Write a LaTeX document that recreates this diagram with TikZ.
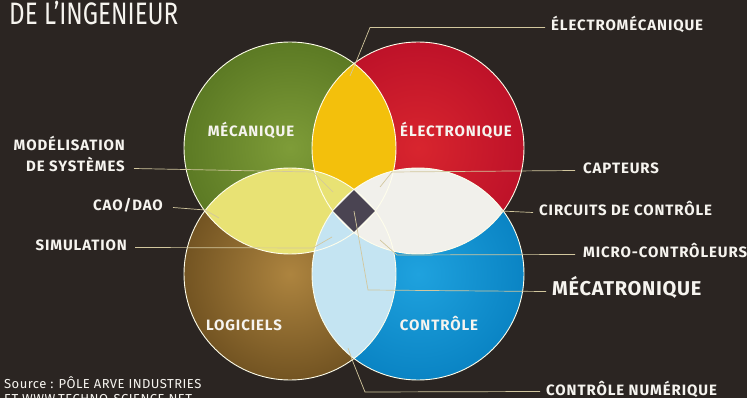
\documentclass[tikz,border=0pt]{standalone}
\usepackage{fontspec}
\setmainfont{Fira Sans}
\newfontfamily\lblfont{Fira Sans}[LetterSpace=6]
\newfontfamily\bigfont{Fira Sans}[LetterSpace=3.5]
\newfontfamily\srcfont{Fira Sans}[LetterSpace=3.5]
\newfontfamily\titfont{Fira Sans}[FakeStretch=0.78]
\usetikzlibrary{shapes.geometric}
\definecolor{bg}{HTML}{2B2522}
\definecolor{cgreen}{HTML}{5C7A24}
\definecolor{cgreenin}{HTML}{7E9C38}
\definecolor{cred}{HTML}{BE1229}
\definecolor{credin}{HTML}{D8252E}
\definecolor{cbrown}{HTML}{735422}
\definecolor{cbrownin}{HTML}{AD843F}
\definecolor{cblue}{HTML}{0A84C4}
\definecolor{cbluein}{HTML}{1FA2DE}
\definecolor{ltop}{HTML}{F3C00C}
\definecolor{lleft}{HTML}{E8E274}
\definecolor{lright}{HTML}{F1F0EB}
\definecolor{lbottom}{HTML}{C4E4F2}
\definecolor{dia}{HTML}{4A4452}
\definecolor{lead}{HTML}{D2C79E}
\definecolor{txt}{HTML}{F6F4EF}
\tikzset{
  lab/.style={text=txt, inner sep=0pt, text height=0.7em, text depth=0pt,
    font=\lblfont\bfseries\fontsize{15}{17}\selectfont},
  bigl/.style={lab, font=\bigfont\bfseries\fontsize{20}{22}\selectfont},
  clab/.style={lab},
  leader/.style={draw=lead, line width=0.7pt},
  rim/.style={draw=white!92!yellow, line width=0.9pt},
}
\begin{document}
\begin{tikzpicture}[x=1pt,y=-1pt]
\fill[bg] (0,0) rectangle (747,398);
\useasboundingbox (0,0) rectangle (747,398);
% circle centres
\coordinate (G) at (290,148);
\coordinate (R) at (418,148);
\coordinate (L) at (290,274);
\coordinate (C) at (418,274);
\def\rr{106}
% circles
\shade[inner color=cgreenin, outer color=cgreen] (G) circle[radius=\rr];
\shade[inner color=credin, outer color=cred] (R) circle[radius=\rr];
\shade[inner color=cbrownin, outer color=cbrown] (L) circle[radius=\rr];
\shade[inner color=cbluein, outer color=cblue] (C) circle[radius=\rr];
% lenses
\begin{scope}\clip (G) circle[radius=\rr]; \fill[ltop] (R) circle[radius=\rr];\end{scope}
\begin{scope}\clip (G) circle[radius=\rr]; \fill[lleft] (L) circle[radius=\rr];\end{scope}
\begin{scope}\clip (L) circle[radius=\rr]; \fill[lbottom] (C) circle[radius=\rr];\end{scope}
\begin{scope}\clip (R) circle[radius=\rr]; \fill[lright] (C) circle[radius=\rr];\end{scope}
% rims
\draw[rim] (G) circle[radius=\rr];
\draw[rim] (R) circle[radius=\rr];
\draw[rim] (L) circle[radius=\rr];
\draw[rim] (C) circle[radius=\rr];
% centre diamond
\node[diamond, aspect=1, inner sep=0pt, minimum size=42pt, fill=dia] (dm) at (354,211) {};
% circle labels
\node[clab, anchor=base] (meca) at (251,137) {MÉCANIQUE};
\node[clab, anchor=base] (elec) at (456,137) {ÉLECTRONIQUE};
\node[clab, anchor=base] (logi) at (244,330) {LOGICIELS};
\node[clab, anchor=base] (ctrl) at (439,330) {CONTRÔLE};
% title and source
\node[text=txt, inner sep=0pt, anchor=base west, font=\titfont\fontsize{31}{32}\selectfont] (tit) at (9,25) {DE L’INGENIEUR};
\node[text=txt, inner sep=0pt, anchor=base west, font=\srcfont\fontsize{13}{14}\selectfont] (src) at (4,388) {Source : PÔLE ARVE INDUSTRIES};
\node[text=txt, inner sep=0pt, anchor=base west, font=\srcfont\fontsize{13}{14}\selectfont] (src2) at (4,403) {ET WWW.TECHNO-SCIENCE.NET};
% right labels
\node[lab, anchor=base west] (em) at (551,31) {ÉLECTROMÉCANIQUE};
\node[lab, anchor=base west] (cap) at (583,174) {CAPTEURS};
\node[lab, anchor=base west] (cir) at (539,216) {CIRCUITS DE CONTRÔLE};
\node[lab, anchor=base west] (mic) at (583,258) {MICRO-CONTRÔLEURS};
\node[bigl, anchor=base west] (mec) at (552,295) {MÉCATRONIQUE};
\node[lab, anchor=base west] (num) at (546,395) {CONTRÔLE NUMÉRIQUE};
% left labels
\node[lab, anchor=base east] (mod1) at (125,151) {MODÉLISATION};
\node[lab, anchor=base east] (mod2) at (125,172) {DE SYSTÈMES};
\node[lab, anchor=base east] (cao) at (163,211) {CAO/DAO};
\node[lab, anchor=base east] (sim) at (127,251) {SIMULATION};
% leader bends and ends
\coordinate (emA) at (370,28);   \coordinate (emB) at (356,62);  \coordinate (emC) at (350,76);
\coordinate (modA) at (313,172); \coordinate (modB) at (333,192);
\coordinate (caoA) at (205,210); \coordinate (caoB) at (219,218);
\coordinate (simA) at (313,248); \coordinate (simB) at (332,237);
\coordinate (capA) at (392,172); \coordinate (capB) at (380,187);
\coordinate (cirA) at (501,211);
\coordinate (micA) at (397,255); \coordinate (micB) at (380,240);
\coordinate (mecA) at (368,290);
\coordinate (numA) at (365,392); \coordinate (numB) at (353,362); \coordinate (numC) at (348,348);
% leaders
\draw[leader] ([xshift=-6pt]em.west) -- (em.west -| emA) -- (emB) -- (emC);
\draw[leader] ([xshift=9pt]mod2.east) -- (modA) -- (modB);
\draw[leader] ([xshift=10pt]cao.east) -- (caoA) -- (caoB);
\draw[leader] ([xshift=8pt]sim.east) -- (simA) -- (simB);
\draw[leader] ([xshift=-8pt]cap.west) -- (capA) -- (capB);
\draw[leader] ([xshift=-6pt]cir.west) -- (cirA);
\draw[leader] ([xshift=-8pt]mic.west) -- (micA) -- (micB);
\draw[leader] ([xshift=-6pt]mec.west) -- (mecA) -- (dm.center);
\draw[leader] ([xshift=-6pt]num.west) -- (numA) -- (numB) -- (numC);
\end{tikzpicture}
\end{document}
